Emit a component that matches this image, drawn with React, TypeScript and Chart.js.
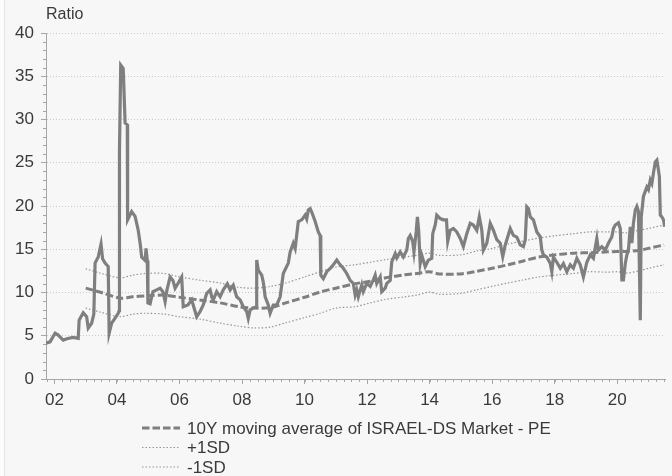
import React, { useEffect, useRef } from 'react';
import { Chart, registerables } from 'chart.js';

Chart.register(...registerables);

// ---------- data ----------
const yAxisTitle = 'Ratio';
const xTickYears = [2002, 2004, 2006, 2008, 2010, 2012, 2014, 2016, 2018, 2020];
const yMin = 0;
const yMax = 40;
const yStep = 5;
const xMin = 2001.73;
const xMax = 2021.53;

const seriesLabels = [
  'ISRAEL-DS Market - PE',
  '10Y moving average of ISRAEL-DS Market - PE',
  '+1SD',
  '-1SD',
];

const mainYears = [
  2001.73, 2001.86, 2002.02, 2002.11, 2002.28, 2002.40, 2002.59, 2002.76, 2002.79, 2002.92,
  2003.03, 2003.08, 2003.19, 2003.26, 2003.30, 2003.40, 2003.49, 2003.54, 2003.62, 2003.72,
  2003.75, 2003.83, 2003.94, 2004.04, 2004.07, 2004.08, 2004.12, 2004.20, 2004.26, 2004.33,
  2004.34, 2004.47, 2004.58, 2004.68, 2004.74, 2004.79, 2004.90, 2004.93, 2004.97, 2004.99,
  2005.06, 2005.15, 2005.27, 2005.38, 2005.47, 2005.54, 2005.60, 2005.70, 2005.79, 2005.86,
  2005.96, 2006.07, 2006.12, 2006.27, 2006.39, 2006.50, 2006.55, 2006.66, 2006.76, 2006.87,
  2006.98, 2007.03, 2007.08, 2007.19, 2007.30, 2007.40, 2007.53, 2007.62, 2007.72, 2007.83,
  2007.94, 2008.04, 2008.15, 2008.20, 2008.26, 2008.36, 2008.45, 2008.47, 2008.52, 2008.63,
  2008.68, 2008.74, 2008.84, 2008.90, 2009.00, 2009.11, 2009.22, 2009.32, 2009.48, 2009.54,
  2009.64, 2009.70, 2009.75, 2009.80, 2009.91, 2010.02, 2010.07, 2010.12, 2010.18, 2010.23,
  2010.34, 2010.44, 2010.50, 2010.52, 2010.60, 2010.71, 2010.82, 2010.92, 2011.03, 2011.14,
  2011.24, 2011.35, 2011.46, 2011.56, 2011.62, 2011.67, 2011.72, 2011.83, 2011.88, 2011.99,
  2012.10, 2012.20, 2012.26, 2012.31, 2012.42, 2012.47, 2012.58, 2012.63, 2012.74, 2012.79,
  2012.90, 2012.95, 2013.06, 2013.16, 2013.27, 2013.32, 2013.38, 2013.46, 2013.50, 2013.57,
  2013.61, 2013.65, 2013.70, 2013.75, 2013.86, 2013.96, 2014.07, 2014.10, 2014.18, 2014.23,
  2014.34, 2014.44, 2014.54, 2014.58, 2014.66, 2014.76, 2014.87, 2014.98, 2015.08, 2015.19,
  2015.30, 2015.40, 2015.51, 2015.59, 2015.67, 2015.72, 2015.83, 2015.94, 2016.04, 2016.15,
  2016.26, 2016.34, 2016.42, 2016.58, 2016.68, 2016.79, 2016.90, 2017.00, 2017.06, 2017.11,
  2017.16, 2017.22, 2017.32, 2017.43, 2017.54, 2017.59, 2017.64, 2017.75, 2017.86, 2017.91,
  2017.96, 2018.07, 2018.18, 2018.28, 2018.39, 2018.50, 2018.60, 2018.71, 2018.82, 2018.92,
  2019.03, 2019.14, 2019.24, 2019.35, 2019.40, 2019.51, 2019.62, 2019.72, 2019.83, 2019.88,
  2019.94, 2020.04, 2020.10, 2020.15, 2020.20, 2020.26, 2020.31, 2020.36, 2020.42, 2020.47,
  2020.52, 2020.58, 2020.63, 2020.68, 2020.74, 2020.77, 2020.84, 2020.95, 2021.00, 2021.06,
  2021.11, 2021.16, 2021.22, 2021.27, 2021.32, 2021.35, 2021.38, 2021.43, 2021.48, 2021.52,
];

const mainValues = [
  4.15, 4.3, 5.3, 5.1, 4.5, 4.65, 4.8, 4.7, 6.8, 7.65,
  7.2, 5.9, 6.45, 7.5, 13.4, 14.1, 15.6, 13.9, 13.4, 13.0,
  5.3, 6.45, 7.05, 7.6, 7.9, 26.3, 36.3, 35.9, 29.6, 29.4,
  18.4, 19.35, 18.8, 17.2, 15.7, 14.1, 13.7, 15.1, 13.7, 8.8,
  8.7, 10.1, 10.3, 10.5, 10.1, 8.95, 10.3, 11.8, 11.4, 10.5,
  11.1, 11.8, 8.35, 8.55, 9.15, 7.8, 7.2, 7.8, 8.55, 9.9,
  10.3, 9.5, 9.15, 10.1, 9.5, 10.3, 11.0, 10.3, 10.85, 9.5,
  9.15, 8.35, 7.8, 7.0, 8.0, 8.2, 8.35, 13.75, 12.6, 12.0,
  11.2, 9.5, 8.55, 7.6, 8.55, 8.55, 9.5, 12.2, 13.4, 14.7,
  15.7, 15.1, 16.65, 18.2, 18.4, 18.95, 18.5, 19.55, 19.7, 19.3,
  18.2, 17.0, 16.6, 12.0, 11.6, 12.4, 12.8, 13.2, 13.75, 13.2,
  12.8, 12.2, 11.4, 11.05, 9.7, 10.3, 9.5, 10.9, 10.1, 11.05,
  10.7, 11.45, 12.0, 11.05, 11.8, 10.1, 10.5, 11.05, 11.4, 13.55,
  14.5, 14.0, 14.7, 14.1, 14.9, 16.25, 16.6, 15.9, 14.7, 17.0,
  18.75, 17.2, 13.35, 14.3, 13.0, 13.75, 13.95, 16.8, 17.8, 18.95,
  18.55, 18.4, 18.4, 15.9, 17.2, 17.4, 17.0, 16.25, 15.3, 16.8,
  18.0, 17.8, 17.2, 18.75, 17.2, 14.9, 15.7, 18.0, 17.2, 16.1,
  15.7, 14.15, 15.5, 17.4, 16.6, 16.4, 15.5, 15.3, 16.1, 19.9,
  19.7, 18.75, 18.4, 17.0, 16.45, 14.9, 14.35, 14.1, 13.35, 12.4,
  14.1, 13.5, 12.8, 13.35, 12.4, 13.2, 12.8, 13.95, 13.2, 11.8,
  13.5, 14.35, 13.95, 16.25, 14.9, 15.3, 14.9, 15.7, 16.45, 17.4,
  17.8, 18.05, 17.4, 11.45, 11.45, 13.35, 14.35, 14.9, 17.6, 15.7,
  18.0, 19.55, 19.95, 19.4, 6.8, 18.75, 21.1, 22.2, 21.9, 23.0,
  22.6, 23.8, 25.1, 25.3, 24.15, 23.4, 18.95, 18.75, 18.4, 17.6,
];

const bandYears = [
  2003.0, 2003.5, 2004.1, 2004.5, 2004.9, 2005.5, 2006.0, 2006.7, 2007.3, 2007.9,
  2008.4, 2008.9, 2009.4, 2010.0, 2010.5, 2011.0, 2011.6, 2012.1, 2012.6, 2013.2,
  2013.6, 2014.0, 2014.3, 2015.0, 2015.5, 2016.0, 2016.5, 2017.0, 2017.5, 2018.0,
  2018.6, 2019.1, 2019.7, 2020.0, 2020.3, 2020.7, 2021.0, 2021.5,
];

const maValues = [
  10.5, 10.0, 9.35, 9.5, 9.6, 9.7, 9.45, 9.1, 8.8, 8.35,
  8.2, 8.25, 8.8, 9.45, 10.05, 10.5, 11.0, 11.3, 11.7, 12.05,
  12.2, 12.4, 12.15, 12.15, 12.45, 12.8, 13.2, 13.65, 14.1, 14.35,
  14.55, 14.6, 14.7, 14.75, 14.75, 14.85, 15.1, 15.5,
];

const upperValues = [
  12.75, 12.2, 11.7, 12.0, 12.2, 12.2, 11.8, 11.4, 11.1, 10.6,
  10.5, 10.7, 11.1, 11.8, 12.4, 12.95, 13.2, 13.5, 13.8, 14.1,
  14.3, 14.55, 14.3, 14.35, 14.8, 15.1, 15.6, 15.95, 16.3, 16.55,
  16.8, 17.0, 17.0, 17.0, 16.9, 17.2, 17.4, 17.8,
];

const lowerValues = [
  8.2, 7.7, 7.2, 7.5, 7.6, 7.5, 7.2, 6.9, 6.45, 6.1,
  5.9, 6.0, 6.5, 7.1, 7.6, 8.2, 8.35, 8.8, 9.2, 9.5,
  9.7, 10.05, 9.8, 9.9, 10.3, 10.7, 11.1, 11.45, 11.8, 12.0,
  12.2, 12.4, 12.35, 12.4, 12.25, 12.5, 12.8, 13.2,
];

// ---------- styles ----------
const FONT = '"Liberation Sans", Arial, Helvetica, sans-serif';
const TEXT = '#3a3a3a';
const AXIS = '#a6a6a6';
const GRID = '#c9c9c9';
const LINE = '#7f7f7f';
const BAND = '#959595';

const toPoints = (xs: number[], ys: number[]) => xs.map((x, i) => ({ x, y: ys[i] }));

const decorPlugin = {
  id: 'decor',
  afterDraw(chart: any) {
    const { ctx, chartArea, scales } = chart;
    const xs = scales.x;
    const ys = scales.y;
    ctx.save();
    // minor ticks
    ctx.strokeStyle = AXIS;
    ctx.lineWidth = 1;
    ctx.setLineDash([]);
    ctx.beginPath();
    for (let q = Math.ceil(xs.min * 4) / 4; q <= xs.max + 1e-9; q += 0.25) {
      const px = Math.round(xs.getPixelForValue(q)) + 0.5;
      ctx.moveTo(px, chartArea.bottom);
      ctx.lineTo(px, chartArea.bottom + 3);
    }
    for (let v = yMin; v <= yMax; v++) {
      if (v % yStep === 0) continue;
      const py = Math.round(ys.getPixelForValue(v)) + 0.5;
      ctx.moveTo(chartArea.left - 3, py);
      ctx.lineTo(chartArea.left, py);
    }
    ctx.stroke();

    // axis title
    ctx.fillStyle = TEXT;
    ctx.font = `16px ${FONT}`;
    ctx.textAlign = 'left';
    ctx.textBaseline = 'middle';
    ctx.fillText(yAxisTitle, chartArea.left, 15);

    // legend (all datasets except the main series)
    const items = chart.data.datasets.slice(1);
    items.forEach((ds: any, i: number) => {
      const cy = 428 + i * 19.5;
      ctx.save();
      ctx.strokeStyle = ds.borderColor;
      ctx.lineWidth = ds.borderWidth;
      ctx.setLineDash(ds.borderDash || []);
      ctx.beginPath();
      ctx.moveTo(142, cy);
      ctx.lineTo(180, cy);
      ctx.stroke();
      ctx.restore();
      ctx.fillStyle = TEXT;
      ctx.font = `17px ${FONT}`;
      ctx.textAlign = 'left';
      ctx.textBaseline = 'middle';
      ctx.fillText(ds.label, 187, cy + 1);
    });
    ctx.restore();
  },
};

export default function App() {
  const ref = useRef<HTMLCanvasElement>(null);

  useEffect(() => {
    if (!ref.current) return;
    const chart = new Chart(ref.current, {
      type: 'line',
      data: {
        datasets: [
          {
            label: seriesLabels[0],
            data: toPoints(mainYears, mainValues),
            borderColor: LINE,
            borderWidth: 3.2,
            pointRadius: 0,
            tension: 0,
            fill: false,
          },
          {
            label: seriesLabels[1],
            data: toPoints(bandYears, maValues),
            borderColor: LINE,
            borderWidth: 3,
            borderDash: [7.5, 3],
            pointRadius: 0,
            tension: 0.3,
            fill: false,
          },
          {
            label: seriesLabels[2],
            data: toPoints(bandYears, upperValues),
            borderColor: BAND,
            borderWidth: 1.2,
            borderDash: [1.5, 2],
            pointRadius: 0,
            tension: 0.3,
            fill: false,
          },
          {
            label: seriesLabels[3],
            data: toPoints(bandYears, lowerValues),
            borderColor: BAND,
            borderWidth: 1.2,
            borderDash: [1.5, 2],
            pointRadius: 0,
            tension: 0.3,
            fill: false,
          },
        ],
      },
      options: {
        responsive: false,
        animation: false,
        devicePixelRatio: 1,
        layout: { padding: { top: 33, right: 7, left: 0, bottom: 0 } },
        plugins: {
          legend: { display: false },
          title: { display: false },
          tooltip: { enabled: false },
        },
        scales: {
          x: {
            type: 'linear',
            min: xMin,
            max: xMax,
            afterBuildTicks: (scale: any) => {
              scale.ticks = xTickYears.map((v) => ({ value: v }));
            },
            afterFit: (scale: any) => {
              scale.height = 97;
            },
            ticks: {
              autoSkip: false,
              maxRotation: 0,
              padding: 6,
              color: TEXT,
              font: { family: FONT, size: 17 },
              callback: (v: any) => String(Math.round(Number(v)) % 100).padStart(2, '0'),
            },
            grid: {
              drawOnChartArea: false,
              drawTicks: true,
              tickLength: 5,
              tickColor: AXIS,
            },
            border: { display: true, color: AXIS, width: 1 },
          },
          y: {
            type: 'linear',
            min: yMin,
            max: yMax,
            afterFit: (scale: any) => {
              scale.width = 46;
            },
            ticks: {
              stepSize: yStep,
              padding: 7,
              color: TEXT,
              font: { family: FONT, size: 17 },
            },
            grid: {
              color: GRID,
              lineWidth: 1,
              drawTicks: true,
              tickLength: 5,
              tickColor: AXIS,
              tickBorderDash: [],
            },
            border: { display: true, color: AXIS, width: 1, dash: [1, 2] },
          },
        },
      } as any,
      plugins: [decorPlugin],
    });
    return () => chart.destroy();
  }, []);

  return (
    <div
      style={{
        position: 'fixed',
        left: 0,
        top: 0,
        width: 672,
        height: 476,
        background: '#f7f7f7',
        overflow: 'hidden',
      }}
    >
      <div
        style={{
          position: 'absolute',
          left: 0,
          top: 0,
          width: 4,
          height: 476,
          background: '#fcfcfc',
          borderRight: '1px solid #e4e4e4',
        }}
      />
      <canvas
        ref={ref}
        width={672}
        height={476}
        style={{ position: 'absolute', left: 0, top: 0, width: 672, height: 476 }}
      />
    </div>
  );
}
